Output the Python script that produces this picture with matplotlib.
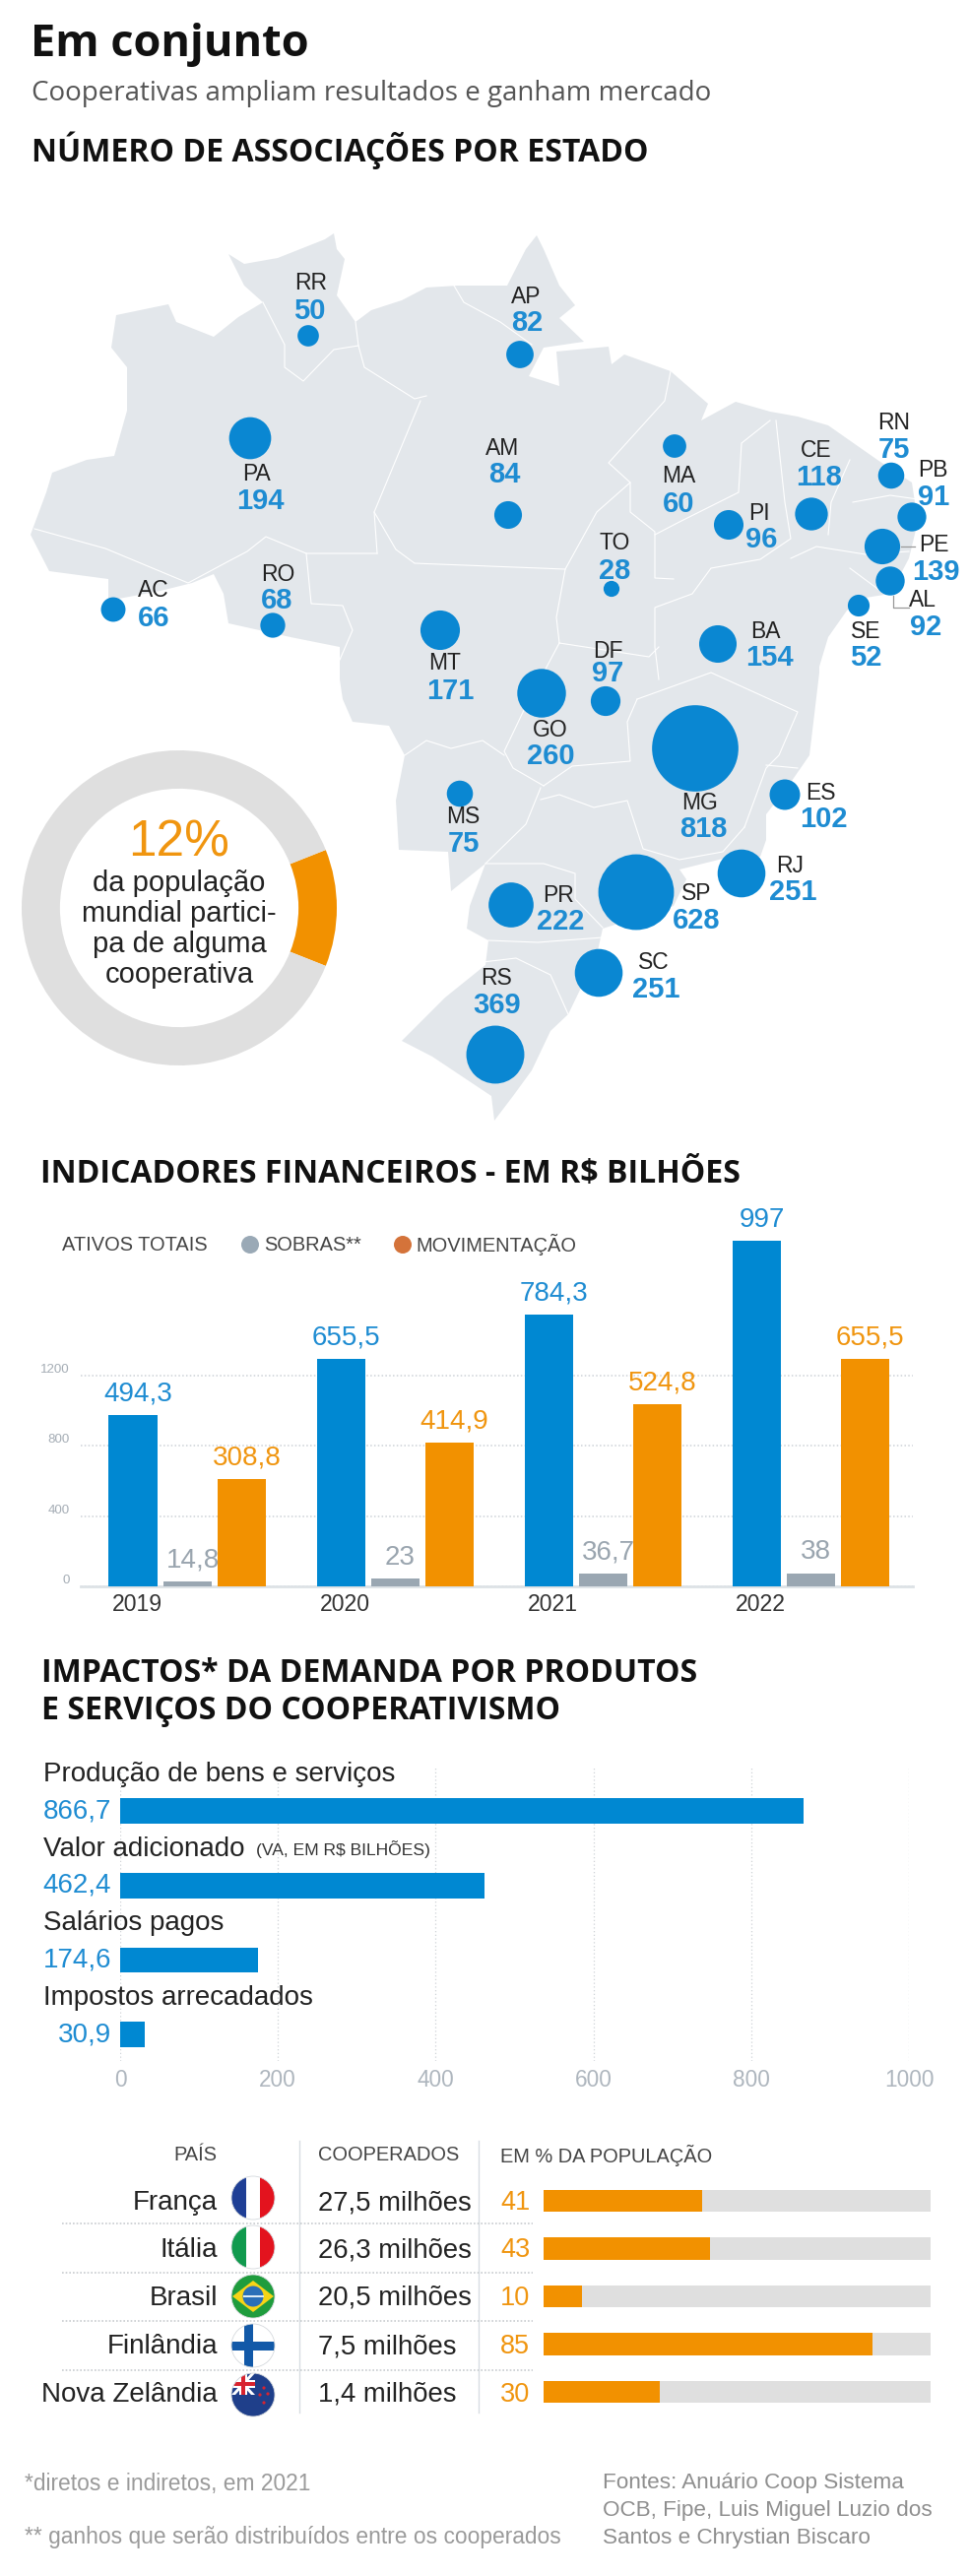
import matplotlib
matplotlib.use("Agg")
import matplotlib.pyplot as plt
from matplotlib.patches import Circle, Polygon, Rectangle
import numpy as np

W, H = 984, 2616
SANS = ['Liberation Sans', 'DejaVu Sans']
HEAD = ['Open Sans', 'DejaVu Sans']
plt.rcParams['font.family'] = SANS

BLUE = '#0088D2'; ORANGE = '#F29100'; GREY = '#9AA7B2'
TBLUE = '#1E8CD2'; TORANGE = '#F0950F'; TGREY = '#9AA5AF'
LIGHT = '#DFDFDF'; MAP = '#E3E7EB'

# ---------- data ----------
states = ['RR','AP','PA','AM','MA','PI','CE','RN','PB','PE','AL','SE','TO','AC','RO','MT','BA',
          'GO','DF','MG','ES','MS','RJ','SP','PR','SC','RS']
assoc = [50,82,194,84,60,96,118,75,91,139,92,52,28,66,68,171,154,260,97,818,102,75,251,628,222,251,369]
donut_share = [12, 88]
years = ['2019','2020','2021','2022']
ativos = [494.3,655.5,784.3,997]
sobras = [14.8,23,36.7,38]
movimentacao = [308.8,414.9,524.8,655.5]
fin_ticks = [0,400,800,1200]
impact_labels = ['Produção de bens e serviços','Valor adicionado','Salários pagos','Impostos arrecadados']
impact_values = [866.7,462.4,174.6,30.9]
impact_ticks = [0,200,400,600,800,1000]
countries = ['França','Itália','Brasil','Finlândia','Nova Zelândia']
cooperados = ['27,5 milhões','26,3 milhões','20,5 milhões','7,5 milhões','1,4 milhões']
pct_pop = [41,43,10,85,30]

# ---------- layout anchors (pixels) ----------
bubble_xy = dict(RR=(313,341),AP=(528,360),PA=(254,445),AM=(516,523),MA=(685,453),PI=(740,533),CE=(824,522),
    RN=(905,483),PB=(926,525),PE=(896,555),AL=(904,590),SE=(872,615),TO=(621,598),AC=(115,619),RO=(277,635),
    MT=(447,640),BA=(729,654),GO=(550,704),DF=(615,712),MG=(706,760),ES=(797,807),MS=(467,806),RJ=(753,887),
    SP=(646,906),PR=(519,919),SC=(608,988),RS=(503,1071))
code_xy = dict(RR=(316,288),AP=(534,302),PA=(261,482),AM=(510,455),MA=(689,484),PI=(771,522),CE=(829,458),
    RN=(908,429),PB=(947,478),PE=(948,554),AL=(937,610),SE=(879,641),TO=(624,552),AC=(156,600),RO=(282,584),
    MT=(452,674),BA=(777,641),GO=(559,741),DF=(617,662),MG=(711,815),ES=(833,805),MS=(470,830),RJ=(802,879),
    SP=(707,907),PR=(567,909),SC=(664,978),RS=(504,994))
val_xy = dict(RR=(314,316),AP=(535,328),PA=(264,509),AM=(512,482),MA=(689,512),PI=(773,548),CE=(832,485),
    RN=(908,457),PB=(948,505),PE=(950,581),AL=(940,637),SE=(879,668),TO=(624,580),AC=(156,628),RO=(281,610),
    MT=(457,702),BA=(781,668),GO=(559,768),DF=(617,684),MG=(714,842),ES=(836,832),MS=(471,857),RJ=(805,906),
    SP=(707,935),PR=(569,936),SC=(666,1005),RS=(505,1021))

outline = [(118,320),(171,309),(179,327),(217,342),(242,322),(267,307),(248,290),(232,258),(248,268),(282,262),
 (330,243),(339,237),(342,253),(350,263),(342,300),(361,327),(377,315),(408,305),(433,292),(465,290),(515,290),
 (534,253),(545,239),(552,253),(568,290),(584,310),(568,323),(593,347),(552,353),(537,382),(568,392),(565,357),
 (618,352),(621,370),(634,360),(681,377),(719,410),(712,427),(747,408),(782,418),(810,423),(841,432),(891,467),
 (926,490),(932,530),(923,567),(904,603),(879,607),(860,620),(841,647),(832,677),(832,683),(822,767),(804,793),
 (778,827),(778,853),(772,870),(734,872),(690,883),(697,893),(684,920),(612,943),(606,970),(577,1030),(559,1047),
 (540,1087),(521,1113),(502,1138),(499,1113),(439,1073),(408,1057),(452,1013),(493,980),(496,955),(474,943),
 (477,920),(493,877),(458,905),(455,865),(405,863),(402,813),(411,767),(395,737),(358,733),(348,710),(345,690),
 (345,657),(295,647),(232,633),(227,603),(217,583),(195,592),(163,600),(110,610),(110,588),(50,580),(31,543),
 (47,500),(53,480),(88,467),(116,463),(129,417),(129,373),(113,353)]
borders = [
 [(267,307),(289,350),(289,373),(308,387),(339,355),(364,351),(361,327)],
 [(364,351),(370,373),(421,405),(433,402)],
 [(427,407),(380,520),(383,562)],
 [(35,537),(107,557),(191,592),(232,570),(251,560),(270,545),(311,562),(383,562)],
 [(311,562),(316,613),(348,615),(358,640),(345,670)],
 [(380,520),(402,558),(421,572),(574,578)],
 [(461,290),(471,307),(508,327),(540,350)],
 [(681,377),(675,407),(618,470),(640,490),(606,520),(574,578),(565,627),(568,653)],
 [(640,490),(640,520),(665,540),(665,587),(684,588)],
 [(782,427),(753,450),(750,500),(690,530),(665,543)],
 [(788,427),(797,510),(803,547),(772,568),(722,577),(703,603),(665,617),(665,657),(669,690)],
 [(863,467),(844,510),(841,543)],
 [(803,567),(829,555),(879,563),(923,560)],
 [(866,510),(904,503),(932,507)],
 [(863,577),(898,603)],
 [(568,653),(659,667),(669,657)],
 [(647,710),(722,683),(766,703),(810,723),(791,767),(778,780),(756,840)],
 [(778,777),(810,780)],
 [(647,710),(637,733),(640,773),(581,778),(552,798)],
 [(568,653),(534,717),(512,763),(521,780),(552,798)],
 [(411,767),(433,752),(458,760),(490,752),(512,767)],
 [(549,800),(534,837),(493,877)],
 [(549,812),(568,807),(603,820),(637,813),(653,862),(690,873),(734,865),(756,840)],
 [(493,877),(552,877),(584,887),(584,913),(612,942)],
 [(496,955),(546,957),(612,952)],
 [(490,977),(524,973),(559,990),(577,1030)],
]

fig = plt.figure(figsize=(W/100, H/100), dpi=100, facecolor='white')

def px_axes(l, t, r, b, **kw):
    return fig.add_axes([l/W, 1-b/H, (r-l)/W, (b-t)/H], **kw)

bg = px_axes(0, 0, W, H)
bg.set_xlim(0, W); bg.set_ylim(H, 0); bg.axis('off')

# ---------- headings ----------
bg.text(31, 57, 'Em conjunto', family=HEAD, weight='bold', fontsize=32.5, color='#111')
bg.text(32, 102, 'Cooperativas ampliam resultados e ganham mercado', family=HEAD, fontsize=20, color='#555')
bg.text(32, 164, 'NÚMERO DE ASSOCIAÇÕES POR ESTADO', family=HEAD, weight='bold', fontsize=23, color='#111')
bg.text(41, 1201, 'INDICADORES FINANCEIROS - EM R$ BILHÕES', family=HEAD, weight='bold', fontsize=23, color='#111')
bg.text(42, 1708, 'IMPACTOS* DA DEMANDA POR PRODUTOS', family=HEAD, weight='bold', fontsize=23, color='#111')
bg.text(42, 1746, 'E SERVIÇOS DO COOPERATIVISMO', family=HEAD, weight='bold', fontsize=23, color='#111')

# ---------- map ----------
bg.add_patch(Polygon(outline, closed=True, fc=MAP, ec='none', zorder=1))
for line in borders:
    xs, ys = zip(*line)
    bg.plot(xs, ys, color='white', lw=0.8, zorder=2)
sizes = [(2*np.sqrt(2.35*v)*0.72)**2 for v in assoc]
bg.scatter([bubble_xy[s][0] for s in states], [bubble_xy[s][1] for s in states], s=sizes,
           color='#0A87D2', linewidths=0, zorder=3)
for s, v in zip(states, assoc):
    bg.text(*code_xy[s], s, ha='center', va='center', fontsize=16.5, color='#222', zorder=4)
    bg.text(*val_xy[s], str(v), ha='center', va='center', fontsize=21, weight='bold', color=TBLUE, zorder=4)
bg.plot([915,929],[555,555], color='#999', lw=0.9, zorder=2.5)
bg.plot([907,907,923],[605,617,617], color='#999', lw=0.9, zorder=2.5)

# ---------- donut ----------
ad = px_axes(22, 762, 342, 1082)
ad.pie(donut_share, startangle=-21.6, colors=[ORANGE, LIGHT], radius=1.0,
       wedgeprops=dict(width=0.243, linewidth=0))
ad.set_xlim(-1, 1); ad.set_ylim(-1, 1)
bg.text(182, 856, '12%', ha='center', va='center', fontsize=37, color=TORANGE)
for yy, t in zip([897,928,959,990], ['da população','mundial partici-','pa de alguma','cooperativa']):
    bg.text(182, yy, t, ha='center', va='center', fontsize=21, color='#222')

# ---------- financial bars ----------
TOP, BASE = 1240, 1611
af = px_axes(82, TOP, 927, BASE)
x = np.arange(4)
STEP = 211.0; PXU = 0.352; TICK_RATIO = 1.976
af.set_xlim((82-190)/STEP, (927-190)/STEP)
af.set_ylim(0, (BASE-TOP)/PXU)
bw = 49/STEP; off = 55/STEP
series = [(ativos,-off,BLUE,TBLUE),(sobras,0,GREY,TGREY),(movimentacao,off,ORANGE,TORANGE)]
for vals, o, c, tc in series:
    af.bar(x+o, vals, width=bw, color=c, zorder=3)
    for xi, v in zip(x, vals):
        lab = f'{v:g}'.replace('.', ',')
        af.annotate(lab, (xi+o, v), xytext=(4, 6), textcoords='offset points', ha='center', va='bottom',
                    fontsize=20, color=tc, annotation_clip=False, zorder=4)
af.set_xticks(x-off+4/STEP, years)
af.set_yticks([t/TICK_RATIO for t in fin_ticks], [str(t) for t in fin_ticks])
af.tick_params(axis='x', length=0, labelsize=16.6, labelcolor='#333', pad=5)
af.tick_params(axis='y', length=0, labelsize=9.6, labelcolor='#A5ADB5', pad=8)
for l in af.get_yticklabels():
    l.set_verticalalignment('bottom')
af.grid(axis='y', color='#CDD2D7', ls=(0,(1,1.5)), lw=1.1, zorder=0)
af.set_axisbelow(True)
for sp in ['top','left','right']:
    af.spines[sp].set_visible(False)
af.spines['bottom'].set_color('#DDE2E6'); af.spines['bottom'].set_linewidth(2)
af.patch.set_alpha(0)

bg.text(63, 1264, 'ATIVOS TOTAIS', va='center', fontsize=14.4, color='#444')
bg.add_patch(Circle((254,1264), 9, fc='#9AA9B6', ec='none'))
bg.text(268, 1264, 'SOBRAS**', va='center', fontsize=14.4, color='#444')
bg.add_patch(Circle((409,1264), 9, fc='#D4733A', ec='none'))
bg.text(422, 1264, 'MOVIMENTAÇÃO', va='center', fontsize=14.4, color='#444')

# ---------- impact bars ----------
ATOP, ABOT, AY0 = 1793, 2093, 1839
ai = px_axes(122, ATOP, 923, ABOT)
HSTEP = 75.7
ai.set_xlim(0, 1000)
ai.set_ylim((ABOT-AY0)/HSTEP, (ATOP-AY0)/HSTEP)
yi = np.arange(4)
ai.barh(yi, impact_values, height=25.7/HSTEP, color=BLUE, zorder=3)
for i, (lab, v) in enumerate(zip(impact_labels, impact_values)):
    ai.text(-97, i-0.49, lab, va='center', ha='left', fontsize=20, color='#222', clip_on=False)
    ai.text(-11, i, f'{v:g}'.replace('.', ','), va='center', ha='right', fontsize=20, color=TBLUE, clip_on=False)
ai.text(172, 1-0.49, '(VA, EM R$ BILHÕES)', va='center', ha='left', fontsize=12.6, color='#333', clip_on=False)
ai.set_xticks(impact_ticks, [str(t) for t in impact_ticks])
ai.set_yticks([])
ai.tick_params(axis='x', length=0, labelsize=16.3, labelcolor='#AEB6BE', pad=6)
ai.grid(axis='x', color='#CFD3D7', ls=(0,(1,2)), lw=0.9, zorder=0)
ai.set_axisbelow(True)
for sp in ai.spines.values():
    sp.set_visible(False)
ai.patch.set_alpha(0)

# ---------- table ----------
TSTEP = 48.5
at = px_axes(552, 2235-TSTEP/2, 945, 2429+TSTEP/2)
at.set_xlim(0, 100)
at.set_ylim(4.5, -0.5)
at.barh(range(5), [100]*5, height=22.3/TSTEP, color=LIGHT)
at.barh(range(5), pct_pop, height=22.3/TSTEP, color=ORANGE)
at.axis('off')

bg.text(198, 2189, 'PAÍS', ha='center', va='center', fontsize=14.4, color='#444')
bg.text(323, 2189, 'COOPERADOS', va='center', fontsize=14.4, color='#444')
bg.text(508, 2189, 'EM % DA POPULAÇÃO', va='center', fontsize=14.4, color='#444')
for xx in (304, 486):
    bg.plot([xx,xx],[2174,2450], color='#D8DDE2', lw=1)
for yy in (2258,2308,2357,2407):
    bg.plot([63,541],[yy,yy], color='#C8CCD0', lw=1.2, ls=(0,(1,1.2)))
row_y = [2237,2285,2334,2383,2432]
flag_y = [2232,2282,2332,2382,2432]
FX = 257; FR = 22
for yy, c, m, p in zip(row_y, countries, cooperados, pct_pop):
    bg.text(221, yy, c, ha='right', va='center', fontsize=20, color='#222')
    bg.text(323, yy, m, ha='left', va='center', fontsize=19.8, color='#222')
    bg.text(508, yy, str(p), ha='left', va='center', fontsize=19.5, color=TORANGE)

def flag(yc, parts):
    clip = Circle((FX,yc), FR, transform=bg.transData)
    for art in parts:
        bg.add_patch(art)
        art.set_clip_path(clip)
    bg.add_patch(Circle((FX,yc), FR, fc='none', ec='#D5D9DD', lw=0.6))

def rect(x0, y0, w, h, c):
    return Rectangle((x0,y0), w, h, fc=c, ec='none')

L = FX-FR; T = lambda yc: yc-FR; D = 2*FR
y0 = flag_y[0]
flag(y0, [rect(L,T(y0),D/3,D,'#1F3F95'), rect(L+D/3,T(y0),D/3,D,'white'), rect(L+2*D/3,T(y0),D/3,D,'#E3131E')])
y0 = flag_y[1]
flag(y0, [rect(L,T(y0),D/3,D,'#119A4E'), rect(L+D/3,T(y0),D/3,D,'white'), rect(L+2*D/3,T(y0),D/3,D,'#E3131E')])
y0 = flag_y[2]
flag(y0, [rect(L,T(y0),D,D,'#1F9C3D'),
          Polygon([(FX-21,y0),(FX,y0-16),(FX+21,y0),(FX,y0+16)], fc='#F7D417', ec='none'),
          Circle((FX,y0), 10.5, fc='#2A6FB8', ec='none'),
          Rectangle((FX-10.5,y0-1), 21, 2, fc='#DDEBF5', ec='none')])
y0 = flag_y[3]
flag(y0, [rect(L,T(y0),D,D,'white'), rect(L+13,T(y0),9,D,'#1259A8'), rect(L,y0-4.5,D,9,'#1259A8')])
y0 = flag_y[4]
nz = [rect(L,T(y0),D,D,'#1F3F8A')]
ux, uy = L, T(y0)
nz += [Polygon([(ux,uy),(ux+4,uy),(ux+24,uy+22),(ux+20,uy+22)], fc='white', ec='none'),
       Polygon([(ux+24,uy),(ux+20,uy),(ux,uy+22),(ux+4,uy+22)], fc='white', ec='none'),
       rect(ux+8,uy,8,22,'white'), rect(ux,uy+7,24,8,'white'),
       rect(ux+10,uy,4,22,'#D8232F'), rect(ux,uy+9,24,4,'#D8232F')]
nz += [Circle((FX+11,y0-7),1.6,fc='#D8232F',ec='none'), Circle((FX+7,y0),1.6,fc='#D8232F',ec='none'),
       Circle((FX+15,y0-1),1.6,fc='#D8232F',ec='none'), Circle((FX+11,y0+8),1.6,fc='#D8232F',ec='none')]
flag(y0, nz)

# ---------- footnotes ----------
bg.text(25, 2522, '*diretos e indiretos, em 2021', va='center', fontsize=16.4, color='#9A9A9A')
bg.text(25, 2577, '** ganhos que serão distribuídos entre os cooperados', va='center', fontsize=16.4, color='#9A9A9A')
for yy, t in zip([2522,2549,2577], ['Fontes: Anuário Coop Sistema','OCB, Fipe, Luis Miguel Luzio dos','Santos e Chrystian Biscaro']):
    bg.text(612, yy, t, va='center', fontsize=16.2, color='#8E8E8E')

fig.savefig('out.png', dpi=100, facecolor='white')
